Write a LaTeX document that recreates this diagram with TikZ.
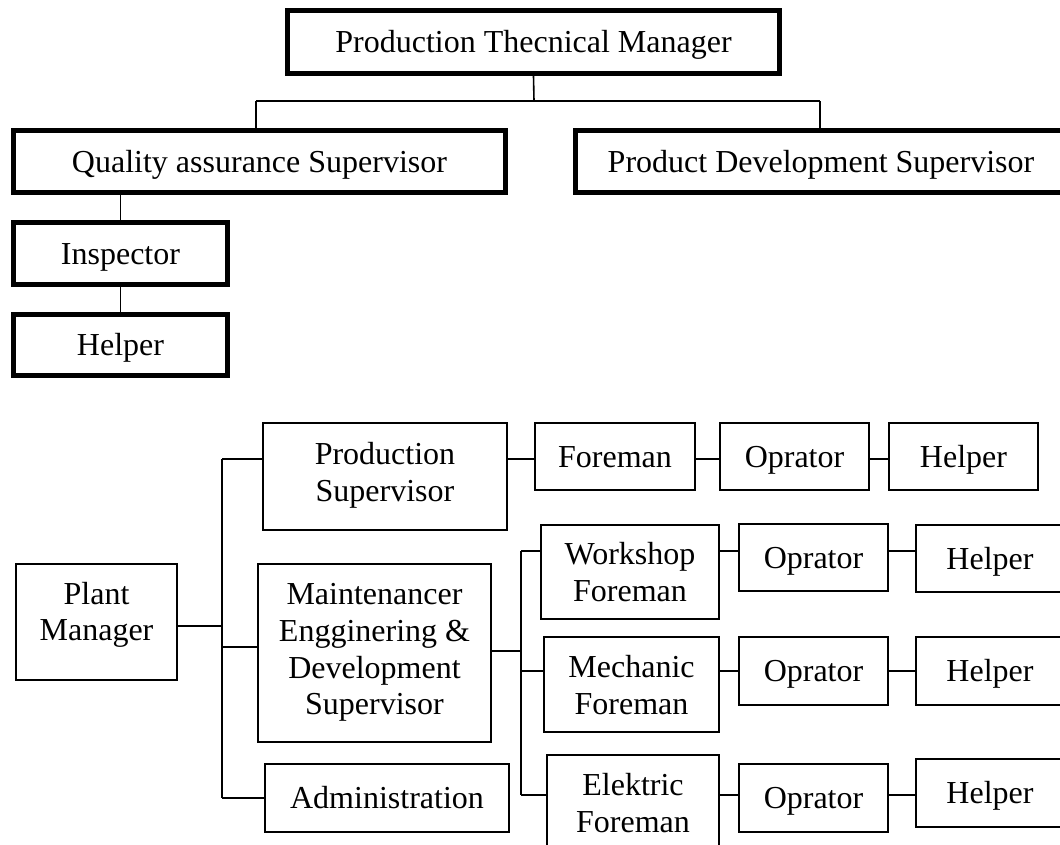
\documentclass[tikz,border=0pt]{standalone}
\usepackage{fontspec}
\setmainfont{Liberation Serif}
\usetikzlibrary{calc}

\tikzset{
  boss/.style={draw, line width=3.5pt, inner sep=0pt, align=center, text height=16pt, text depth=0pt},
  unit/.style={draw, line width=1.5pt, inner sep=0pt, align=center, text depth=0pt},
  one/.style={text height=16pt},
  link/.style={line width=1.2pt},
  wire/.style={line width=1.5pt},
}

\begin{document}
\begin{tikzpicture}[x=0.75pt,y=-0.75pt,font=\fontsize{24}{27.6}\selectfont]
\useasboundingbox (0,0) rectangle (1060,844);
\clip (0,0) rectangle (1060,844);
% upper chart
\node[boss,minimum width=369.25pt,minimum height=47.5pt] (PTM) at (533.5,42) {Production Thecnical Manager};
\node[boss,minimum width=369.25pt,minimum height=46.75pt] (QAS) at (259.5,161.5) {Quality assurance Supervisor};
\node[boss,minimum width=368.5pt,minimum height=46.75pt] (PDS) at (821,161.5) {Product Development Supervisor};
\node[boss,minimum width=160.75pt,minimum height=46.75pt] (Insp) at (120.5,253.5) {Inspector};
\node[boss,minimum width=160.75pt,minimum height=46pt] (HelpTop) at (120.5,345) {Helper};
\coordinate (tj) at (534,101);
\coordinate (qa) at (256,101);
\coordinate (pd) at (820,101);
\draw[link] (PTM.south) -- (tj);
\draw[link] (qa) -- (pd);
\draw[link] (qa) -- (qa |- QAS.north);
\draw[link] (pd) -- (pd |- PDS.north);
\draw[link] (Insp.north) -- (Insp.north |- QAS.south);
\draw[link] (Insp.south) -- (HelpTop.north);
% lower chart
\node[unit,text depth=16pt,minimum width=120.75pt,minimum height=87pt] (Plant) at (96.5,622) {Plant\\Manager};
\node[unit,text depth=7.5pt,minimum width=183pt,minimum height=80.25pt] (ProdSup) at (385,476.5) {Production\\Supervisor};
\node[unit,text depth=6pt,minimum width=174.75pt,minimum height=133.5pt] (Maint) at (374.5,653) {Maintenancer\\Engginering \&\\Development\\Supervisor};
\node[unit,one,minimum width=183pt,minimum height=51pt] (Admin) at (387,798) {Administration};
\node[unit,one,minimum width=120pt,minimum height=50.25pt] (Fore) at (615,456.5) {Foreman};
\node[unit,one,minimum width=111.75pt,minimum height=50.25pt] (OpA) at (794.5,456.5) {Oprator};
\node[unit,one,minimum width=111.75pt,minimum height=50.25pt] (HelpA) at (963.5,456.5) {Helper};
\node[unit,minimum width=133.5pt,minimum height=70.5pt] (Work) at (630,572) {Workshop\\Foreman};
\node[unit,minimum width=131.25pt,minimum height=71.25pt] (Mech) at (631.5,684.5) {Mechanic\\Foreman};
\node[unit,minimum width=129pt,minimum height=72pt] (Elek) at (633,803) {Elektric\\Foreman};
\node[unit,one,minimum width=111.75pt,minimum height=50.25pt] (OpB) at (813.5,557.5) {Oprator};
\node[unit,one,minimum width=111pt,minimum height=50.25pt] (HelpB) at (990,558.5) {Helper};
\node[unit,one,minimum width=111.75pt,minimum height=51pt] (OpC) at (813.5,671) {Oprator};
\node[unit,one,minimum width=111pt,minimum height=51pt] (HelpC) at (990,671) {Helper};
\node[unit,one,minimum width=111.75pt,minimum height=51pt] (OpD) at (813.5,798) {Oprator};
\node[unit,one,minimum width=111pt,minimum height=51pt] (HelpD) at (990,793) {Helper};
\coordinate (tP) at (222,626);
\coordinate (tA) at (222,459);
\coordinate (tM) at (222,647);
\coordinate (tZ) at (222,798);
\coordinate (sM) at (521,651);
\coordinate (sB) at (521,551);
\coordinate (sC) at (521,671);
\coordinate (sD) at (521,795);
\draw[wire] (tP -| Plant.east) -- (tP);
\draw[wire] (tA) -- (tZ);
\draw[wire] (tA) -- (tA -| ProdSup.west);
\draw[wire] (tM) -- (tM -| Maint.west);
\draw[wire] (tZ) -- (tZ -| Admin.west);
\draw[wire] (sM -| Maint.east) -- (sM);
\draw[wire] (sB) -- (sD);
\foreach \n/\s in {Work/sB,Mech/sC,Elek/sD}
  \draw[wire] (\s) -- (\s -| \n.west);
\foreach \a/\b/\r in {ProdSup/Fore/tA,Fore/OpA/tA,OpA/HelpA/tA,Work/OpB/sB,OpB/HelpB/sB,Mech/OpC/sC,OpC/HelpC/sC,Elek/OpD/sD,OpD/HelpD/sD}
  \draw[wire] (\r -| \a.east) -- (\r -| \b.west);
\end{tikzpicture}
\end{document}
